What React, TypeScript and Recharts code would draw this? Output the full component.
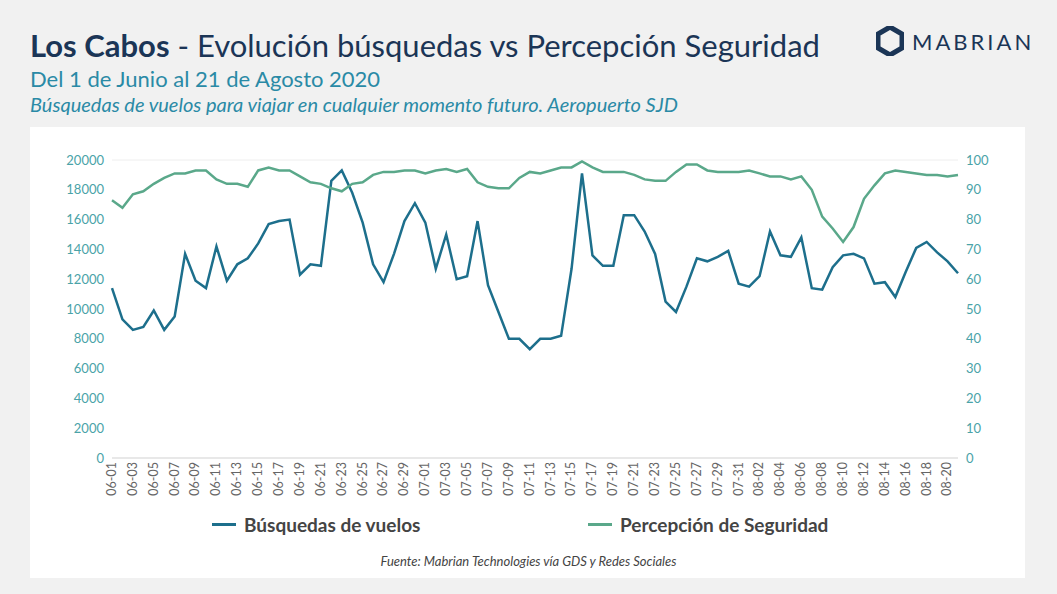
import { CartesianGrid, Line, LineChart, XAxis, YAxis } from 'recharts'

const busquedas = [
  11400, 9300, 8600, 8800, 9900, 8600, 9500, 13700, 11900, 11400, 14200, 11900, 13000, 13400, 14400,
  15700, 15900, 16000, 12300, 13000, 12900, 18600, 19300, 17800, 15800, 13000, 11800, 13700, 15900, 17100,
  15800, 12700, 15000, 12000, 12200, 15900, 11600, 9800, 8000, 8000, 7300, 8000, 8000, 8200, 12700,
  19100, 13600, 12900, 12900, 16300, 16300, 15200, 13700, 10500, 9800, 11500, 13400, 13200, 13500, 13900, 11700,
  11500, 12200, 15200, 13600, 13500, 14800, 11400, 11300, 12800, 13600, 13700, 13400, 11700, 11800, 10800,
  12500, 14100, 14500, 13800, 13200, 12400,
]

const percepcion = [
  86.5, 84, 88.5, 89.5, 92, 94, 95.5, 95.5, 96.5, 96.5, 93.5, 92, 92, 91, 96.5,
  97.5, 96.5, 96.5, 94.5, 92.5, 92, 90.5, 89.5, 92, 92.5, 95, 96, 96, 96.5, 96.5,
  95.5, 96.5, 97, 96, 97, 92.5, 91, 90.5, 90.5, 94, 96, 95.5, 96.5, 97.5, 97.5,
  99.5, 97.5, 96, 96, 96, 95, 93.5, 93, 93, 96, 98.5, 98.5, 96.5, 96, 96, 96,
  96.5, 95.5, 94.5, 94.5, 93.5, 94.5, 90, 81, 77, 72.5, 77.5, 87, 91.5, 95.5,
  96.5, 96, 95.5, 95, 95, 94.5, 95,
]

const monthDays: Array<[string, number]> = [['06', 30], ['07', 31], ['08', 21]]
const fechas: string[] = []
monthDays.forEach(([m, n]) => {
  for (let d = 1; d <= n; d++) fechas.push(`${m}-${String(d).padStart(2, '0')}`)
})

const leftTicks = [0, 2000, 4000, 6000, 8000, 10000, 12000, 14000, 16000, 18000, 20000]
const rightTicks = [0, 10, 20, 30, 40, 50, 60, 70, 80, 90, 100]

const data = fechas.map((fecha, i) => ({ fecha, busquedas: busquedas[i], percepcion: percepcion[i] }))

const BLUE = '#1d6f8c'
const GREEN = '#5aa88a'
const TICK = '#4aa3a8'
const FONT = '"Lato", "Open Sans", sans-serif'

export default function App() {
  return (
    <div style={{ position: 'absolute', left: 0, top: 0, width: 1057, height: 594, background: '#f1f1f1', fontFamily: FONT, overflow: 'hidden' }}>
      <div style={{ position: 'absolute', left: 30, top: 26, fontSize: 31, color: '#1b3556', whiteSpace: 'nowrap' }}>
        <b>Los Cabos</b> - Evolución búsquedas vs Percepción Seguridad
      </div>
      <div style={{ position: 'absolute', left: 30, top: 65, fontSize: 22, color: '#2a8aa6' }}>Del 1 de Junio al 21 de Agosto 2020</div>
      <div style={{ position: 'absolute', left: 30, top: 92, fontSize: 20, fontStyle: 'italic', color: '#2a8aa6', whiteSpace: 'nowrap' }}>
        Búsquedas de vuelos para viajar en cualquier momento futuro. Aeropuerto SJD
      </div>
      <div style={{ position: 'absolute', left: 876, top: 26, display: 'flex', alignItems: 'center', gap: 8 }}>
        <svg width={28} height={30} viewBox="0 0 28 30">
          <polygon points="14,1 26,8 26,22 14,29 2,22 2,8" fill="none" stroke="#1b3556" strokeWidth={5} />
        </svg>
        <span style={{ fontSize: 22, letterSpacing: 3, color: '#1b3556' }}>MABRIAN</span>
      </div>
      <div style={{ position: 'absolute', left: 30, top: 127, width: 995, height: 451, background: '#fff' }} />
      <div style={{ position: 'absolute', left: 30, top: 140 }}>
        <LineChart width={990} height={370} data={data} margin={{ top: 20, right: 22, left: 22, bottom: 2 }}>
          <CartesianGrid vertical={false} stroke="#eeeeee" />
          <XAxis dataKey="fecha" interval={1} angle={-90} textAnchor="end" height={50} tickLine={false}
            axisLine={{ stroke: '#d9d9d9' }} tick={{ fill: '#666', fontSize: 12.5, dy: -4, dx: -5 }} />
          <YAxis yAxisId="l" width={60} domain={[0, 20000]} ticks={leftTicks} axisLine={false} tickLine={false}
            tick={{ fill: TICK, fontSize: 13 }} />
          <YAxis yAxisId="r" orientation="right" width={40} domain={[0, 100]} ticks={rightTicks} axisLine={false}
            tickLine={false} tick={{ fill: TICK, fontSize: 13 }} />
          <Line yAxisId="l" dataKey="busquedas" stroke={BLUE} strokeWidth={2.5} dot={false} isAnimationActive={false} type="linear" />
          <Line yAxisId="r" dataKey="percepcion" stroke={GREEN} strokeWidth={2.5} dot={false} isAnimationActive={false} type="linear" />
        </LineChart>
      </div>
      <div style={{ position: 'absolute', left: 212, top: 513, display: 'flex', alignItems: 'center', gap: 8, fontSize: 19, fontWeight: 700, color: '#444' }}>
        <span style={{ width: 24, height: 3, background: BLUE, display: 'inline-block' }} />Búsquedas de vuelos
      </div>
      <div style={{ position: 'absolute', left: 588, top: 513, display: 'flex', alignItems: 'center', gap: 8, fontSize: 19, fontWeight: 700, color: '#444' }}>
        <span style={{ width: 24, height: 3, background: GREEN, display: 'inline-block' }} />Percepción de Seguridad
      </div>
      <div style={{ position: 'absolute', left: 0, width: 1057, top: 553, textAlign: 'center', fontSize: 13, fontStyle: 'italic', color: '#444' }}>
        Fuente: Mabrian Technologies vía GDS y Redes Sociales
      </div>
    </div>
  )
}
